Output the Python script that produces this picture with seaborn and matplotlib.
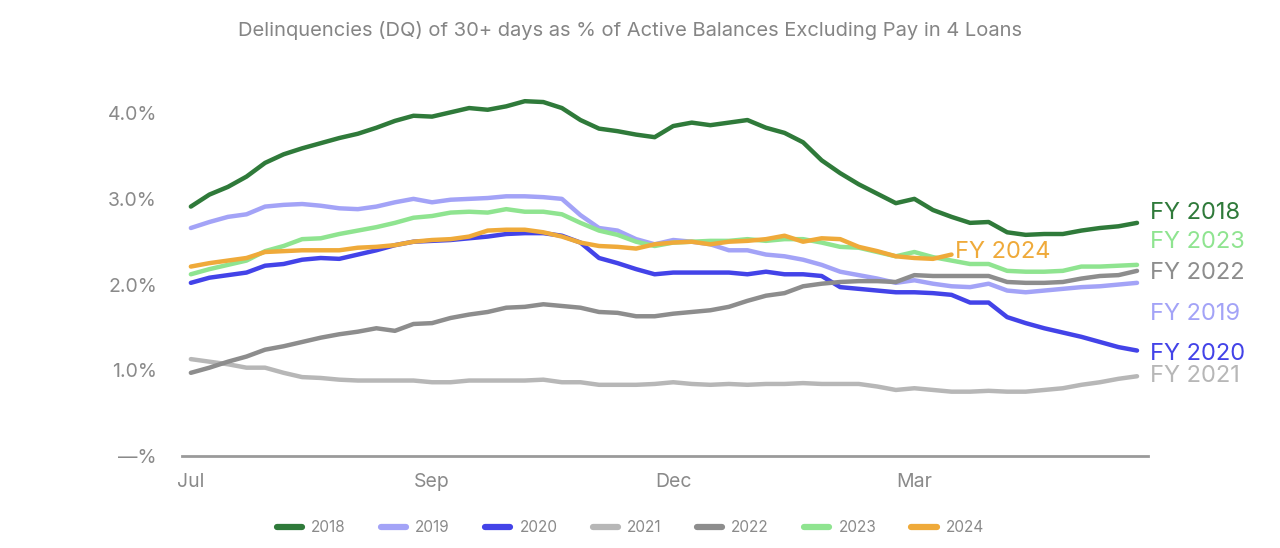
import pandas as pd
import numpy as np

import matplotlib.pyplot as plt
from matplotlib.lines import Line2D
import seaborn as sns

sns.set_theme(style='white')
plt.rcParams['font.family'] = ['Inter', 'DejaVu Sans']

# =========================
#  DATA (weekly, fiscal year starting in July)
# =========================

years = ['2018', '2019', '2020', '2021', '2022', '2023', '2024']
month_ticks = [0, 13, 26, 39]
month_labels = ['Jul', 'Sep', 'Dec', 'Mar']

fy2018 = [2.91, 3.05, 3.14, 3.26, 3.42, 3.52, 3.59, 3.65, 3.71, 3.76,
          3.83, 3.91, 3.97, 3.96, 4.01, 4.06, 4.04, 4.08, 4.14, 4.13,
          4.06, 3.92, 3.82, 3.79, 3.75, 3.72, 3.85, 3.89, 3.86, 3.89,
          3.92, 3.83, 3.77, 3.66, 3.45, 3.30, 3.17, 3.06, 2.95, 3.00,
          2.87, 2.79, 2.72, 2.73, 2.61, 2.58, 2.59, 2.59, 2.63, 2.66,
          2.68, 2.72]
fy2019 = [2.66, 2.73, 2.79, 2.82, 2.91, 2.93, 2.94, 2.92, 2.89, 2.88,
          2.91, 2.96, 3.00, 2.96, 2.99, 3.00, 3.01, 3.03, 3.03, 3.02,
          3.00, 2.81, 2.66, 2.63, 2.53, 2.47, 2.52, 2.50, 2.47, 2.40,
          2.40, 2.35, 2.33, 2.29, 2.23, 2.15, 2.11, 2.07, 2.02, 2.05,
          2.01, 1.98, 1.97, 2.01, 1.93, 1.91, 1.93, 1.95, 1.97, 1.98,
          2.00, 2.02]
fy2020 = [2.02, 2.08, 2.11, 2.14, 2.22, 2.24, 2.29, 2.31, 2.30, 2.35,
          2.40, 2.46, 2.50, 2.51, 2.52, 2.54, 2.56, 2.59, 2.60, 2.60,
          2.57, 2.49, 2.31, 2.25, 2.18, 2.12, 2.14, 2.14, 2.14, 2.14,
          2.12, 2.15, 2.12, 2.12, 2.10, 1.97, 1.95, 1.93, 1.91, 1.91,
          1.90, 1.88, 1.79, 1.79, 1.62, 1.55, 1.49, 1.44, 1.39, 1.33,
          1.27, 1.23]
fy2021 = [1.13, 1.10, 1.07, 1.03, 1.03, 0.97, 0.92, 0.91, 0.89, 0.88,
          0.88, 0.88, 0.88, 0.86, 0.86, 0.88, 0.88, 0.88, 0.88, 0.89,
          0.86, 0.86, 0.83, 0.83, 0.83, 0.84, 0.86, 0.84, 0.83, 0.84,
          0.83, 0.84, 0.84, 0.85, 0.84, 0.84, 0.84, 0.81, 0.77, 0.79,
          0.77, 0.75, 0.75, 0.76, 0.75, 0.75, 0.77, 0.79, 0.83, 0.86,
          0.90, 0.93]
fy2022 = [0.97, 1.03, 1.10, 1.16, 1.24, 1.28, 1.33, 1.38, 1.42, 1.45,
          1.49, 1.46, 1.54, 1.55, 1.61, 1.65, 1.68, 1.73, 1.74, 1.77,
          1.75, 1.73, 1.68, 1.67, 1.63, 1.63, 1.66, 1.68, 1.70, 1.74,
          1.81, 1.87, 1.90, 1.98, 2.01, 2.03, 2.04, 2.04, 2.03, 2.11,
          2.10, 2.10, 2.10, 2.10, 2.03, 2.02, 2.02, 2.03, 2.07, 2.10,
          2.11, 2.16]
fy2023 = [2.12, 2.18, 2.23, 2.28, 2.39, 2.45, 2.53, 2.54, 2.59, 2.63,
          2.67, 2.72, 2.78, 2.80, 2.84, 2.85, 2.84, 2.88, 2.85, 2.85,
          2.82, 2.72, 2.63, 2.58, 2.50, 2.45, 2.49, 2.50, 2.51, 2.51,
          2.53, 2.51, 2.53, 2.53, 2.49, 2.44, 2.43, 2.38, 2.33, 2.38,
          2.32, 2.28, 2.24, 2.24, 2.16, 2.15, 2.15, 2.16, 2.21, 2.21,
          2.22, 2.23]
fy2024 = [2.21, 2.25, 2.28, 2.31, 2.38, 2.39, 2.40, 2.40, 2.40, 2.43,
          2.44, 2.46, 2.50, 2.52, 2.53, 2.56, 2.63, 2.64, 2.64, 2.61,
          2.56, 2.49, 2.45, 2.44, 2.42, 2.47, 2.49, 2.50, 2.47, 2.50,
          2.51, 2.53, 2.57, 2.50, 2.54, 2.53, 2.44, 2.39, 2.33, 2.31,
          2.30, 2.35]

series = [fy2018, fy2019, fy2020, fy2021, fy2022, fy2023, fy2024]

colors = {
    '2018': '#2f7a3a',
    '2019': '#a3a3f7',
    '2020': '#4343e8',
    '2021': '#b7b7b7',
    '2022': '#8d8d8d',
    '2023': '#8fe490',
    '2024': '#efaa3a',
}

# end-of-line labels: (x, y) in data units
fy_label_pos = {
    '2018': (51.7, 2.84),
    '2023': (51.7, 2.50),
    '2022': (51.7, 2.14),
    '2019': (51.7, 1.66),
    '2020': (51.7, 1.19),
    '2021': (51.7, 0.93),
    '2024': (41.2, 2.38),
}

# =========================
#  LONG DATAFRAME
# =========================

frames = []
for year, vals in zip(years, series):
    frames.append(pd.DataFrame({'week': np.arange(len(vals)), 'dq': vals, 'year': year}))
df = pd.concat(frames, ignore_index=True)

# =========================
#  PLOT
# =========================

fig = plt.figure(figsize=(12.8, 5.48), dpi=100)
ax = fig.add_axes([0.142, 0.168, 0.755, 0.688])

sns.lineplot(data=df, x='week', y='dq', hue='year', palette=colors,
             linewidth=3.2, legend=False, ax=ax, sort=False)

ax.set_xlim(-0.49, 51.6)
ax.set_ylim(0, 4.4)

ax.set_yticks([0, 1, 2, 3, 4])
ax.set_yticklabels(['\u2014%', '1.0%', '2.0%', '3.0%', '4.0%'])
ax.set_xticks(month_ticks)
ax.set_xticklabels(month_labels)
ax.tick_params(axis='both', length=0, labelsize=14, labelcolor='#8a8a8a')
ax.tick_params(axis='y', pad=18)
ax.tick_params(axis='x', pad=12)
ax.set_xlabel('')
ax.set_ylabel('')

for side in ['top', 'right', 'left']:
    ax.spines[side].set_visible(False)
ax.spines['bottom'].set_color('#9a9a9a')
ax.spines['bottom'].set_linewidth(2)
ax.grid(False)

for year, (lx, ly) in fy_label_pos.items():
    ax.text(lx, ly, f'FY {year}', color=colors[year], fontsize=17,
            va='center', ha='left', clip_on=False)

fig.text(0.492, 0.945, 'Delinquencies (DQ) of 30+ days as % of Active Balances Excluding Pay in 4 Loans',
         ha='center', va='center', fontsize=14.5, color='#858585')

handles = [Line2D([0], [0], color=colors[y], lw=4.5) for y in years]
leg = fig.legend(handles, years, loc='center', bbox_to_anchor=(0.4925, 0.037),
                 ncol=7, frameon=False, fontsize=11, handlelength=1.65,
                 columnspacing=2.3, handletextpad=0.6)
for t in leg.get_texts():
    t.set_color('#8a8a8a')

fig.savefig('out.png', dpi=100)
